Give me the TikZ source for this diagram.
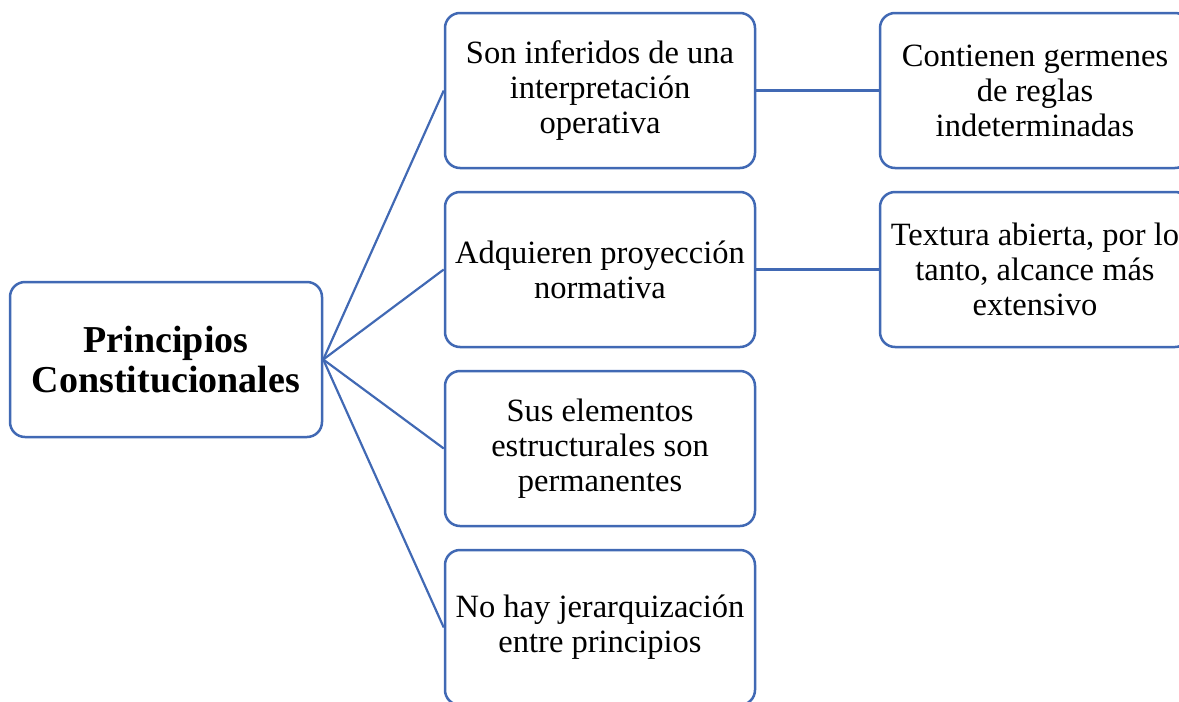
\documentclass[tikz,border=0pt]{standalone}
\usepackage{fontspec}
\setmainfont{Liberation Serif}
\usepackage{xcolor}
\definecolor{boxblue}{HTML}{4169B4}

\begin{document}
\begin{tikzpicture}[x=1pt, y=-1pt]
	\useasboundingbox (0,0) rectangle (1179,702);
	\clip (0,0) rectangle (1179,702);
	\fontsize{32.5}{35}\selectfont
	\tikzstyle{main}=[rectangle, rounded corners=15pt, draw=boxblue, line width=2.5pt, fill=white, minimum width=310pt, minimum height=155pt, align=center, inner sep=0pt]
	\tikzstyle{link}=[draw=boxblue, line width=2.2pt]
	\node[main, minimum width=312pt, font=\fontsize{38}{40}\selectfont\bfseries] (root) at (166,359.5) {Principios\\Constitucionales};
	\foreach \i/\y/\txt in {1/90.5/{Son inferidos de una\\interpretación\\operativa},2/269.5/{Adquieren proyección\\normativa},3/448.5/{Sus elementos\\estructurales son\\permanentes},4/627.5/{No hay jerarquización\\entre principios}} {
	    \node[main] (m\i) at (600,\y) {\txt};
        \path (root.east) edge[link] (m\i.west);
	}
	\node[main] (r1) at (1035,90.5) {Contienen germenes\\de reglas\\indeterminadas};
	\node[main] (r2) at (1035,269.5) {Textura abierta, por lo\\tanto, alcance más\\extensivo};
	\foreach \i in {1,2} {
        \path (m\i.east) edge[link] (r\i.west);
	}
\end{tikzpicture}
\end{document}
